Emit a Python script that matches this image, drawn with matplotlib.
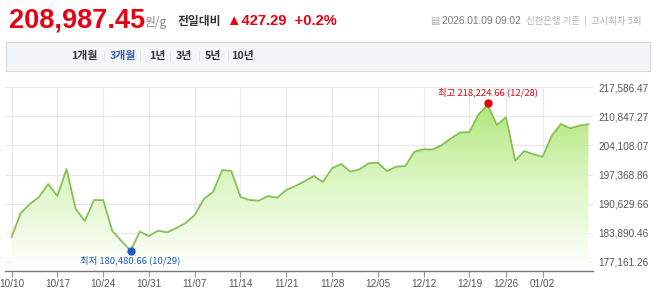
import numpy as np
import matplotlib
matplotlib.use('Agg')
import matplotlib.pyplot as plt
from matplotlib.patches import Rectangle, PathPatch
from matplotlib.colors import LinearSegmentedColormap

W, H = 658, 302
FONT = ['Liberation Sans', 'Noto Sans CJK KR', 'DejaVu Sans']
KFONT = ['Noto Sans CJK KR', 'DejaVu Sans']

# daily gold price (원/g), trading days 10/10 ~ 01/09
prices = [182936, 188480, 190559, 192176, 195179, 192407, 198644, 189404, 186632, 191483,
          191450, 184322, 182012, 179770, 184160, 183167, 184391, 184022, 185015, 186170,
          188018, 191714, 193331, 198413, 198182, 192176, 191483, 191321, 192407, 192014,
          193793, 194717, 195803, 197027, 195641, 198806, 199799, 198020, 198575, 199961,
          200099, 198182, 199175, 199337, 202640, 203195, 203150, 204188, 205736, 207075,
          207191, 211280, 213428, 208808, 210586, 200561, 202802, 202040, 201485, 206336,
          209039, 208046, 208646, 208987.45]
tick_idx = [0, 5, 10, 15, 20, 25, 30, 35, 40, 45, 50, 54, 58]
tick_labels = ['10/10', '10/17', '10/24', '10/31', '11/07', '11/14', '11/21', '11/28',
               '12/05', '12/12', '12/19', '12/26', '01/02']
yticks = [217586.47, 210847.27, 204108.07, 197368.86, 190629.66, 183890.46, 177161.26]
periods = ['1개월', '3개월', '1년', '3년', '5년', '10년']
period_x = [84, 123, 157, 184, 213, 243]
hi_idx, hi_label = 52, '최고 218,224.66 (12/28)'
lo_idx, lo_label = 13, '최저 180,480.66 (10/29)'

RED = '#e60012'
BLUE = '#1f5cc9'


def px(x, y):
    return x / W, 1 - y / H


fig = plt.figure(figsize=(W / 100, H / 100), dpi=100)
fig.patch.set_facecolor('white')

# header
fig.text(*px(9, 28), '208,987.45', color=RED, fontsize=19.5, fontweight='bold',
         family=FONT, va='baseline')
fig.text(*px(144, 26), '원/g', color='#888888', fontsize=8.5, family=KFONT, va='baseline')
fig.text(*px(178, 25), '전일대비', color='#333333', fontsize=8.5, fontweight='bold',
         family=KFONT, va='baseline')
fig.text(*px(227, 25), '▲427.29  +0.2%', color=RED, fontsize=10.5, fontweight='bold',
         family=FONT, va='baseline')
fig.text(*px(430, 24), '▤', color='#aaaaaa', fontsize=7, family=['DejaVu Sans'], va='baseline')
fig.text(*px(442, 24), '2026.01.09 09:02', color='#777777', fontsize=7.3, family=FONT,
         va='baseline')
fig.text(*px(526, 24), '신한은행 기준  |  고시회차 5회', color='#b0b0b0', fontsize=6.8,
         family=KFONT, va='baseline')

# period tabs
fig.patches.append(Rectangle(px(6, 71), (650 - 6) / W, 29 / H, transform=fig.transFigure,
                             facecolor='#f4f5f7', edgecolor='#d6d6d6', lw=0.8))
for i, (p, x) in enumerate(zip(periods, period_x)):
    fig.text(*px(x, 56), p, color='#3b5cb8' if i == 1 else '#333333', fontsize=7.8,
             fontweight='bold', family=KFONT, ha='center', va='center')
    if i < len(periods) - 1:
        sx = (x + period_x[i + 1]) / 2
        fig.lines.append(plt.Line2D([sx / W, sx / W], [1 - 51 / H, 1 - 61 / H],
                                    transform=fig.transFigure, color='#e6e6e6', lw=0.7))

# chart
ax = fig.add_axes([5 / W, 1 - 271 / H, 588 / W, 184 / H])
x = np.arange(len(prices))
ymin, ymax = 175082, 217586.47
ax.set_xlim(-0.72, 63.5)
ax.set_ylim(ymin, ymax)

poly = ax.fill_between(x, prices, ymin, color='none', lw=0)
cmap = LinearSegmentedColormap.from_list('g', ['#ffffff', '#dcf6c2', '#a6e46a'])
grad = np.linspace(0, 1, 256).reshape(-1, 1)
img = ax.imshow(grad, extent=[x[0], x[-1], ymin, ymax], origin='lower', aspect='auto',
                cmap=cmap, zorder=1)
path = poly.get_paths()[0]
img.set_clip_path(PathPatch(path, transform=ax.transData, facecolor='none', lw=0))
ax.plot(x, prices, color='#86c156', lw=1.3, zorder=3)

ax.plot(hi_idx, prices[hi_idx] + 500, 'o', color=RED, ms=5, zorder=4)
ax.text(hi_idx, prices[hi_idx] + 1800, hi_label, color=RED, fontsize=6.8, family=KFONT,
        ha='center', va='bottom', zorder=5)
ax.plot(lo_idx, prices[lo_idx], 'o', color=BLUE, ms=5, zorder=4)
ax.text(lo_idx, prices[lo_idx] - 1100, lo_label, color=BLUE, fontsize=6.8, family=KFONT,
        ha='center', va='top', zorder=5)

ax.set_xticks(tick_idx)
ax.set_xticklabels(tick_labels, color='#555555', fontsize=7.2, family=FONT)
ax.set_yticks(yticks)
ax.set_yticklabels([f'{v:,.2f}' for v in yticks], color='#555555', fontsize=7.2, family=FONT)
ax.yaxis.tick_right()
ax.tick_params(axis='y', length=0, pad=4)
ax.tick_params(axis='x', length=4, color='#999999', pad=2, direction='out')
ax.grid(True, color='#e8e8e8', lw=0.8, zorder=0)
ax.set_axisbelow(True)
for s in ['top', 'left', 'right']:
    ax.spines[s].set_visible(False)
ax.spines['bottom'].set_color('#777777')
ax.spines['bottom'].set_linewidth(1.0)
ax.set_facecolor('white')

fig.savefig('out.png', dpi=100)
